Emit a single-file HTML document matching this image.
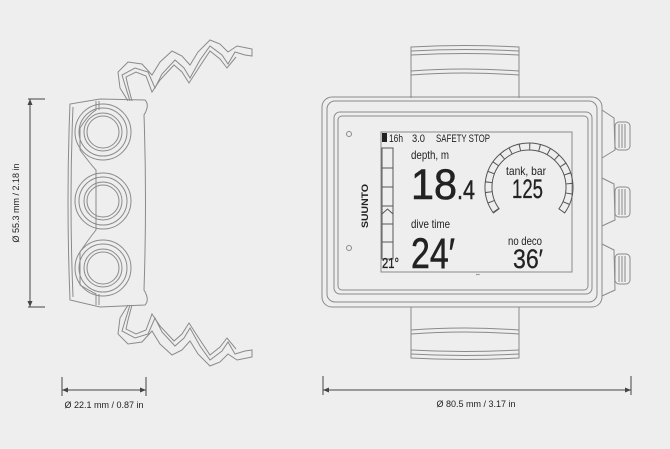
<!DOCTYPE html>
<html><head><meta charset="utf-8"><style>
html,body{margin:0;padding:0;background:#eeeeee;}
svg{display:block}
text{font-family:"Liberation Sans",sans-serif;fill:#222}
</style></head><body>
<svg width="670" height="449" viewBox="0 0 670 449" xmlns="http://www.w3.org/2000/svg">
<rect width="670" height="449" fill="#eeeeee"/>
<g fill="none" stroke="#8a8a8a" stroke-width="1">
<!-- LEFT strap top -->
<path d="M130 101 L125 85 L122 75 L135 68 L148 72 L155 88 L162 74 L175 60 L184 68 L190 78 L200 60 L210 46 L222 55 L228 64 L235 52 L245 55 L252 56 L252 49 L247 48 L237 46 L228 52 L220 44 L210 40 L198 52 L190 65 L182 56 L172 51 L160 62 L152 75 L142 64 L128 62 L118 72 L120 88 L128 101"/>
<path d="M132 101 L128 86 L126 77 L136 72 L146 76 L152 92 L160 80 L174 65 L182 72 L189 83 L200 66 L210 51 L220 59 L227 68 L236 57"/>
<!-- LEFT strap bottom -->
<path d="M130 305 L125 321 L122 331 L135 338 L148 334 L155 318 L162 332 L175 346 L184 338 L190 328 L200 346 L210 360 L222 351 L228 342 L235 354 L245 351 L252 350 L252 357 L247 358 L237 360 L228 354 L220 362 L210 366 L198 354 L190 341 L182 350 L172 355 L160 344 L152 331 L142 342 L128 344 L118 334 L120 318 L128 305"/>
<path d="M132 305 L128 320 L126 329 L136 334 L146 330 L152 314 L160 326 L174 341 L182 334 L189 323 L200 340 L210 355 L220 347 L227 338 L236 349"/>
<!-- LEFT body -->
<path d="M70 104 Q66 200 70 300 L100 307 L145 305 Q150 300 144 290 Q147 200 144 115 Q150 105 145 100 L100 99 Z"/>
<path d="M73 107 Q69 200 73 297"/>
<path d="M96 101 L96 110 Q88 115 80 128 L80 150 Q92 166 96 170 L96 230 Q88 240 80 252 L80 285 Q88 290 96 294 L96 305"/>
<path d="M99 101 L99 110"/><path d="M99 294 L99 305"/>
<circle cx="103" cy="132" r="28"/><circle cx="103" cy="132" r="24"/><circle cx="103" cy="132" r="19"/><circle cx="103" cy="132" r="16"/>
<circle cx="103" cy="201" r="28"/><circle cx="103" cy="201" r="24"/><circle cx="103" cy="201" r="19"/><circle cx="103" cy="201" r="16"/>
<circle cx="103" cy="268" r="28"/><circle cx="103" cy="268" r="24"/><circle cx="103" cy="268" r="19"/><circle cx="103" cy="268" r="16"/>
<!-- RIGHT straps -->
<path d="M411 98 L411 47 Q465 44 519 47 L519 98"/>
<path d="M411 51 Q465 48 519 51"/><path d="M411 55 Q465 52 519 55"/>
<path d="M411 71 Q465 67 519 71"/><path d="M411 75 Q465 71 519 75"/>
<path d="M411 307 L411 358 Q465 361 519 358 L519 307"/>
<path d="M411 330 Q465 326 519 330"/><path d="M411 334 Q465 330 519 334"/>
<path d="M411 350 Q465 353 519 350"/><path d="M411 354 Q465 357 519 354"/>
<!-- RIGHT body -->
<rect x="322" y="97" width="280" height="210" rx="10"/>
<rect x="327" y="101" width="270" height="201" rx="8"/>
<rect x="334" y="112" width="258" height="182" rx="6"/>
<rect x="338" y="116" width="250" height="174" rx="4"/>
<rect x="381" y="132" width="191" height="140"/>
<circle cx="349" cy="134" r="2.5"/><circle cx="349" cy="248" r="2.5"/>
<!-- lugs and buttons -->
<path d="M602 110 L614 118 L615 150 L602 158"/>
<path d="M602 178 L614 184 L615 220 L602 226"/>
<path d="M602 244 L614 250 L615 290 L602 296"/>
<rect x="615" y="122" width="15" height="28" rx="4"/>
<rect x="615" y="187" width="15" height="30" rx="4"/>
<rect x="615" y="254" width="15" height="30" rx="4"/>
<path d="M619 124 V148 M622 124 V148 M625 124 V148 M619 189 V215 M622 189 V215 M625 189 V215 M619 256 V282 M622 256 V282 M625 256 V282"/>
</g>
<!-- screen content -->
<g fill="none" stroke="#555" stroke-width="1">
<rect x="382" y="148" width="11" height="111"/>
<path d="M382 168 H393 M382 187 H393 M382 206 H393 M382 224 H393 M382 242 H393 M382 214 L387.5 209 L393 214"/>
<path d="M493.4 212.9 A44 44 0 1 1 564.6 212.9 L558.9 208.8 A37 37 0 1 0 499.1 208.8 Z"/>
<path d="M496.2 210.8 A40.5 40.5 0 1 1 561.8 210.8" stroke-width="7" stroke-dasharray="1 8.9"/>
</g>
<rect x="382" y="133" width="5" height="9" fill="#222"/>
<text x="389" y="142" font-size="11" textLength="14" lengthAdjust="spacingAndGlyphs">16h</text>
<text x="412" y="142" font-size="11" textLength="13" lengthAdjust="spacingAndGlyphs">3.0</text>
<text x="436" y="142" font-size="11" textLength="54" lengthAdjust="spacingAndGlyphs">SAFETY STOP</text>
<text x="411" y="159" font-size="12" textLength="38" lengthAdjust="spacingAndGlyphs">depth, m</text>
<text x="411" y="199" font-size="43" textLength="46" lengthAdjust="spacingAndGlyphs" stroke="#222" stroke-width="0.6">18</text>
<text x="457" y="199" font-size="27" textLength="18" lengthAdjust="spacingAndGlyphs" stroke="#222" stroke-width="0.4">.4</text>
<text x="411" y="228" font-size="12" textLength="39" lengthAdjust="spacingAndGlyphs">dive time</text>
<text x="411" y="268" font-size="43" textLength="44" lengthAdjust="spacingAndGlyphs" stroke="#222" stroke-width="0.6">24′</text>
<text x="382" y="268" font-size="15" textLength="17" lengthAdjust="spacingAndGlyphs" stroke="#222" stroke-width="0.3">21°</text>
<text x="506" y="175" font-size="12" textLength="40" lengthAdjust="spacingAndGlyphs">tank, bar</text>
<text x="512" y="198" font-size="27" textLength="31" lengthAdjust="spacingAndGlyphs" stroke="#222" stroke-width="0.3">125</text>
<text x="508" y="245" font-size="12" textLength="34" lengthAdjust="spacingAndGlyphs">no deco</text>
<text x="513" y="268" font-size="27" textLength="30" lengthAdjust="spacingAndGlyphs" stroke="#222" stroke-width="0.3">36′</text>
<text x="475" y="276" font-size="6">⇔</text>
<text transform="translate(368 228) rotate(-90)" font-size="9" font-weight="bold" textLength="44" lengthAdjust="spacingAndGlyphs">SUUNTO</text>
<!-- dimension lines -->
<g stroke="#444" stroke-width="1" fill="none">
<path d="M30 99 V307 M28 99 H45 M28 307 H45"/>
<path d="M62 377 V396 M146 377 V396 M62 390 H146"/>
<path d="M323 376 V395 M631 376 V395 M323 390 H631"/>
</g>
<g fill="#444">
<path d="M30 99 L27.5 105 L32.5 105Z M30 307 L27.5 301 L32.5 301Z"/>
<path d="M62 390 L68 387.5 L68 392.5Z M146 390 L140 387.5 L140 392.5Z"/>
<path d="M323 390 L329 387.5 L329 392.5Z M631 390 L625 387.5 L625 392.5Z"/>
</g>
<text transform="translate(19 203) rotate(-90)" font-size="9" text-anchor="middle" fill="#333">Ø 55.3 mm / 2.18 in</text>
<text x="104" y="408" font-size="9" text-anchor="middle" fill="#333">Ø 22.1 mm / 0.87 in</text>
<text x="476" y="407" font-size="9" text-anchor="middle" fill="#333">Ø 80.5 mm / 3.17 in</text>
</svg>
</body></html>
